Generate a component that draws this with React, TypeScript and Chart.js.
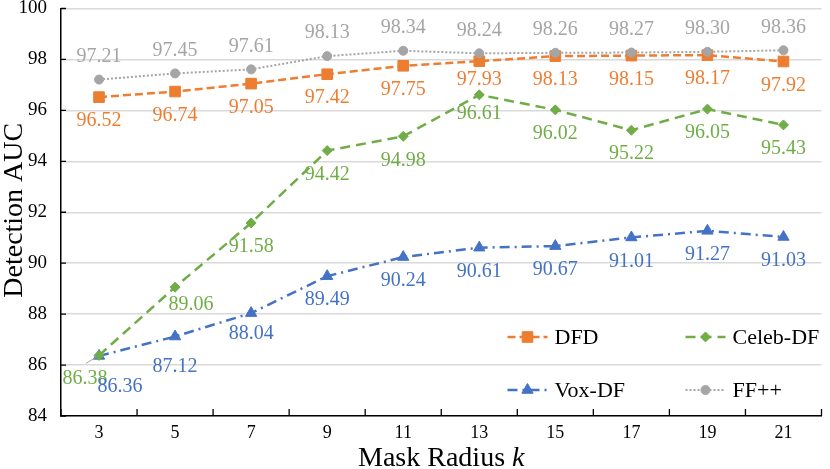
import React, { useEffect, useRef } from 'react';
import { Chart, registerables } from 'chart.js';
import { drawPoint } from 'chart.js/helpers';

Chart.register(...registerables);

// mask radius k on the x axis
const radii = ['3', '5', '7', '9', '11', '13', '15', '17', '19', '21'];

// detection AUC per dataset
const dfd = [96.52, 96.74, 97.05, 97.42, 97.75, 97.93, 98.13, 98.15, 98.17, 97.92];
const celebDf = [86.38, 89.06, 91.58, 94.42, 94.98, 96.61, 96.02, 95.22, 96.05, 95.43];
const voxDf = [86.36, 87.12, 88.04, 89.49, 90.24, 90.61, 90.67, 91.01, 91.27, 91.03];
const ffpp = [97.21, 97.45, 97.61, 98.13, 98.34, 98.24, 98.26, 98.27, 98.3, 98.36];

const yMin = 84;
const yMax = 100;
const yStep = 2;

const FONT = '"Liberation Serif", "Times New Roman", serif';

// label placement: 'below' or 'above', with a few hand nudges like the original
const labelSide = ['below', 'below', 'below', 'above'];
const nudges: Record<string, { dx?: number; dy?: number; leader?: boolean }> = {
  '1:0': { dx: -14, dy: 23, leader: true },
  '2:0': { dx: 21, dy: 31 },
  '1:1': { dx: 16, dy: 18 },
  '2:1': { dy: 30 },
  '2:2': { dy: 21 },
  '1:5': { dy: 19 },
  '0:5': { dy: 19 },
};

const dataLabels = {
  id: 'dataLabels',
  afterDatasetsDraw(chart: any) {
    const ctx = chart.ctx;
    ctx.save();
    ctx.font = `20px ${FONT}`;
    ctx.textAlign = 'center';
    ctx.textBaseline = 'middle';
    chart.data.datasets.forEach((ds: any, di: number) => {
      const meta = chart.getDatasetMeta(di);
      meta.data.forEach((pt: any, i: number) => {
        const n = nudges[`${di}:${i}`] || {};
        const dy = n.dy ?? (labelSide[di] === 'above' ? -23 : 24);
        const x = pt.x + (n.dx ?? 0);
        const y = pt.y + dy;
        if (n.leader) {
          ctx.strokeStyle = '#a5a5a5';
          ctx.lineWidth = 1;
          ctx.setLineDash([]);
          ctx.beginPath();
          ctx.moveTo(x + 1, y - 15);
          ctx.lineTo(pt.x - 3, pt.y + 2);
          ctx.stroke();
        }
        ctx.fillStyle = ds.borderColor;
        ctx.fillText(Number(ds.data[i]).toFixed(2), x, y);
      });
    });
    ctx.restore();
  },
};

const axisExtras = {
  id: 'axisExtras',
  afterDraw(chart: any) {
    const ctx = chart.ctx;
    const { left, right, top, bottom } = chart.chartArea;
    const yScale = chart.scales.y;
    ctx.save();
    // inward tick marks
    ctx.strokeStyle = '#000';
    ctx.lineWidth = 1.3;
    ctx.beginPath();
    yScale.ticks.forEach((t: any) => {
      const y = yScale.getPixelForValue(t.value);
      ctx.moveTo(left, y);
      ctx.lineTo(left + 5, y);
    });
    const n = radii.length;
    for (let i = 0; i <= n; i++) {
      const x = left + (i * (right - left)) / n;
      ctx.moveTo(x, bottom);
      ctx.lineTo(x, bottom - 7);
    }
    ctx.stroke();

    // axis titles
    ctx.fillStyle = '#000';
    ctx.textBaseline = 'alphabetic';
    const cx = (left + right) / 2;
    const part1 = 'Mask Radius ';
    ctx.font = `28px ${FONT}`;
    const w1 = ctx.measureText(part1).width;
    ctx.font = `italic 28px ${FONT}`;
    const w2 = ctx.measureText('k').width;
    const sx = cx - (w1 + w2) / 2;
    ctx.textAlign = 'left';
    ctx.font = `28px ${FONT}`;
    ctx.fillText(part1, sx, 466);
    ctx.font = `italic 28px ${FONT}`;
    ctx.fillText('k', sx + w1, 466);

    ctx.translate(22, (top + bottom) / 2 - 2);
    ctx.rotate(-Math.PI / 2);
    ctx.textAlign = 'center';
    ctx.font = `28px ${FONT}`;
    ctx.fillText('Detection AUC', 0, 0);
    ctx.restore();
  },
};

const insideLegend = {
  id: 'insideLegend',
  afterDraw(chart: any) {
    const ctx = chart.ctx;
    const { right, bottom } = chart.chartArea;
    const cols = [right - 314, right - 136];
    const rows = [bottom - 79, bottom - 26];
    ctx.save();
    chart.data.datasets.forEach((ds: any, di: number) => {
      const x0 = cols[di % 2];
      const y = rows[Math.floor(di / 2)];
      ctx.strokeStyle = ds.borderColor;
      ctx.lineWidth = ds.borderWidth;
      ctx.lineCap = ds.borderCapStyle || 'butt';
      ctx.setLineDash(ds.borderDash || []);
      ctx.beginPath();
      ctx.moveTo(x0, y);
      ctx.lineTo(x0 + 40, y);
      ctx.stroke();
      ctx.setLineDash([]);
      ctx.fillStyle = ds.pointBackgroundColor;
      ctx.strokeStyle = ds.pointBackgroundColor;
      ctx.lineWidth = 1;
      drawPoint(ctx, { pointStyle: ds.pointStyle, radius: ds.pointRadius, rotation: 0, borderWidth: 1 }, x0 + 20, y);
      ctx.fillStyle = '#000';
      ctx.font = `22px ${FONT}`;
      ctx.textAlign = 'left';
      ctx.textBaseline = 'middle';
      ctx.fillText(ds.label, x0 + 47, y + 1);
    });
    ctx.restore();
  },
};

const App: React.FC = () => {
  const chartRef = useRef<HTMLCanvasElement>(null);

  useEffect(() => {
    document.body.style.margin = '0';
    if (!chartRef.current) return;
    const series = (
      label: string,
      data: number[],
      color: string,
      pointStyle: string,
      pointRadius: number,
      borderDash: number[],
      borderWidth: number,
      order: number
    ) => ({
      label,
      data,
      borderColor: color,
      backgroundColor: color,
      pointBackgroundColor: color,
      pointBorderColor: color,
      pointStyle,
      pointRadius,
      pointBorderWidth: 1,
      borderDash,
      borderWidth,
      order,
      tension: 0,
      fill: false,
    });

    const myChart = new Chart(chartRef.current, {
      type: 'line',
      data: {
        labels: radii,
        datasets: [
          series('DFD', dfd, '#ed7d31', 'rect', 7.5, [8, 4], 2.5, 1),
          series('Celeb-DF', celebDf, '#70ad47', 'rectRot', 5, [10, 6], 2.5, 1),
          series('Vox-DF', voxDf, '#4472c4', 'triangle', 6.5, [10, 5, 2, 5], 2.5, 1),
          series('FF++', ffpp, '#a5a5a5', 'circle', 4.5, [2, 2], 2, 0),
        ] as any,
      },
      options: {
        animation: false,
        responsive: true,
        maintainAspectRatio: false,
        layout: { padding: { top: 8, right: 4, left: 0, bottom: 0 } },
        plugins: {
          legend: { display: false },
          tooltip: { enabled: false },
        },
        scales: {
          x: {
            type: 'category',
            offset: true,
            grid: { offset: true, drawOnChartArea: false, drawTicks: false },
            border: { color: '#000', width: 1.5 },
            ticks: { color: '#000', padding: 6, font: { family: FONT, size: 18 } },
            afterFit: (s: any) => {
              s.height = 53;
              s.paddingLeft = 0;
              s.paddingRight = 0;
            },
          },
          y: {
            min: yMin,
            max: yMax,
            grid: { color: '#d9d9d9', lineWidth: 1.5, drawTicks: false },
            border: { color: '#000', width: 1.5 },
            ticks: {
              stepSize: yStep,
              color: '#000',
              padding: 14,
              font: { family: FONT, size: 19 },
            },
            afterFit: (s: any) => {
              s.width = 61;
              s.paddingTop = 0;
              s.paddingBottom = 0;
            },
          },
        },
      } as any,
      plugins: [dataLabels, axisExtras, insideLegend],
    });

    return () => {
      myChart.destroy();
    };
  }, []);

  return (
    <div style={{ width: 830, height: 469, position: 'relative' }}>
      <canvas ref={chartRef} />
    </div>
  );
};

export default App;
